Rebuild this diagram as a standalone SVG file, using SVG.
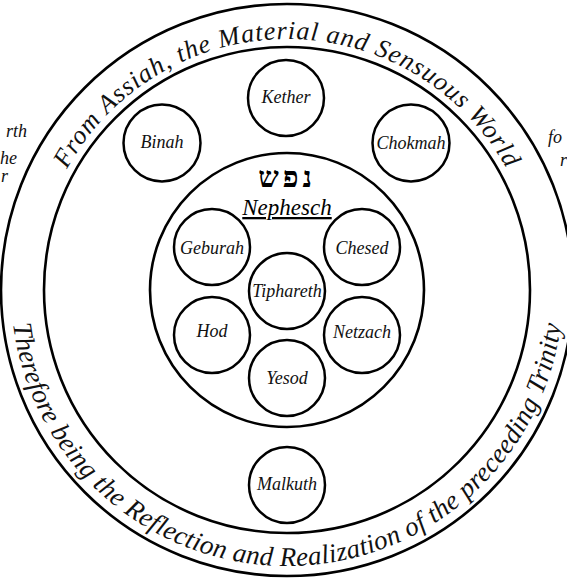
<svg xmlns="http://www.w3.org/2000/svg" width="567" height="580" viewBox="0 0 567 580">
<style>
.ring{fill:none;stroke:#000;stroke-width:2.6}
.node circle{fill:#fff;stroke:#000;stroke-width:2.5}
.lbl{font-family:"Liberation Serif","DejaVu Serif",serif;font-style:italic;font-size:18px;fill:#111;text-anchor:middle}
.arc{font-family:"Liberation Serif","DejaVu Serif",serif;font-style:italic;fill:#111}
.frag{font-family:"Liberation Serif","DejaVu Serif",serif;font-style:italic;font-size:18px;fill:#111}
</style>
<defs>
<path id="topArc" d="M 51.1 375.8 A 251 251 0 1 1 522.9 375.8"/>
<path id="botArc" d="M 15.2 242.1 A 276 276 0 1 0 558.8 242.1"/>
</defs>
<rect width="567" height="580" fill="#fff"/>
<g id="rings">
<circle class="ring" cx="287" cy="290" r="286"/>
<circle class="ring" cx="287" cy="290" r="243"/>
<circle class="ring" cx="287" cy="290" r="137"/>
</g>
<g id="band-text">
<text class="arc" font-size="26" letter-spacing="1"><textPath href="#topArc" startOffset="50%" text-anchor="middle">From Assiah, the Material and Sensuous World</textPath></text>
<text class="arc" font-size="27" letter-spacing="0.3"><textPath href="#botArc" startOffset="50%" text-anchor="middle">Therefore being the Reflection and Realization of the preceeding Trinity</textPath></text>
</g>
<g id="fragments">
<text class="frag" x="27" y="137" text-anchor="end">rth</text>
<text class="frag" x="17" y="164" text-anchor="end">he</text>
<text class="frag" x="8" y="182" text-anchor="end">r</text>
<text class="frag" x="548" y="143">fo</text>
<text class="frag" x="560" y="166">r</text>
</g>
<g id="title">
<text x="287" y="187" font-family="'Liberation Serif','DejaVu Sans',serif" font-weight="bold" font-size="29" letter-spacing="4" text-anchor="middle" direction="rtl">נפש</text>
<text x="287" y="215" font-family="'Liberation Serif','DejaVu Serif',serif" font-style="italic" font-size="23" text-anchor="middle" text-decoration="underline">Nephesch</text>
</g>
<g id="connectors"></g>
<g id="kether" class="node"><circle cx="286" cy="98" r="38"/><text class="lbl" x="286" y="103">Kether</text></g>
<g id="binah" class="node"><circle cx="162" cy="143" r="38.5"/><text class="lbl" x="162" y="148">Binah</text></g>
<g id="chokmah" class="node"><circle cx="411" cy="143" r="38.5"/><text class="lbl" x="411" y="149">Chokmah</text></g>
<g id="geburah" class="node"><circle cx="212" cy="247" r="38"/><text class="lbl" x="212" y="254">Geburah</text></g>
<g id="chesed" class="node"><circle cx="362" cy="247" r="38"/><text class="lbl" x="362" y="254">Chesed</text></g>
<g id="tiphareth" class="node"><circle cx="287" cy="291" r="38"/><text class="lbl" x="287" y="297">Tiphareth</text></g>
<g id="hod" class="node"><circle cx="212" cy="335" r="38"/><text class="lbl" x="212" y="337">Hod</text></g>
<g id="netzach" class="node"><circle cx="362" cy="335" r="38"/><text class="lbl" x="362" y="338">Netzach</text></g>
<g id="yesod" class="node"><circle cx="287" cy="378" r="38"/><text class="lbl" x="287" y="384">Yesod</text></g>
<g id="malkuth" class="node"><circle cx="287" cy="485" r="38"/><text class="lbl" x="287" y="490">Malkuth</text></g>
</svg>
